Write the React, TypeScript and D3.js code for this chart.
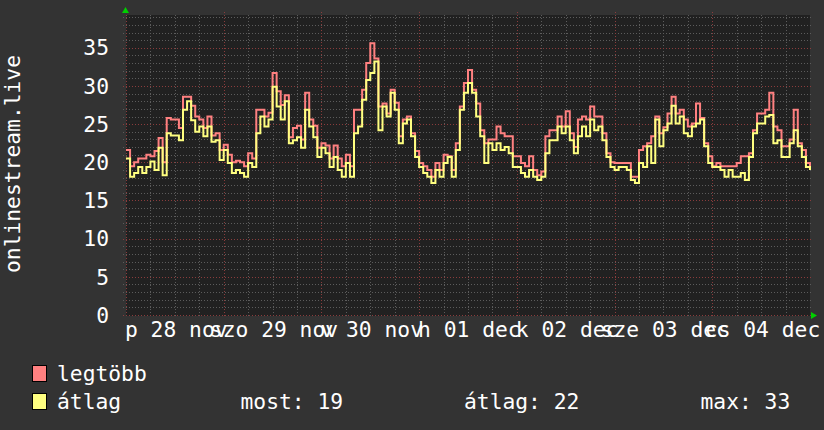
import * as d3 from 'd3';

// hourly values from p 28 nov 00:00 to cs 04 dec 24:00 (last entry closes the final step)
const avgValues = [
  20.5, 18.1, 18.6, 19.4, 18.6, 19.4, 20.1, 19.0, 21.9, 18.3, 23.8, 23.5, 23.5, 22.9, 26.9, 28.0, 25.5, 24.0, 24.7, 23.4, 24.7, 22.7, 22.9, 20.3,
  21.6, 19.9, 18.6, 19.0, 18.6, 18.1, 19.9, 19.4, 23.8, 26.0, 24.7, 25.6, 29.9, 27.3, 25.6, 28.0, 22.5, 22.9, 23.3, 21.9, 26.9, 24.7, 23.3, 20.7,
  21.9, 21.2, 19.4, 20.7, 19.0, 18.1, 19.9, 18.1, 23.8, 24.7, 28.2, 30.8, 31.7, 33.2, 24.2, 27.3, 26.0, 29.1, 26.9, 22.5, 25.1, 25.6, 23.4, 20.7,
  19.4, 18.6, 18.1, 17.3, 19.0, 18.1, 19.9, 20.7, 18.1, 21.6, 26.9, 29.1, 30.4, 29.1, 26.0, 23.4, 19.9, 22.5, 21.6, 22.5, 21.6, 22.0, 21.2, 19.4,
  19.4, 18.6, 18.1, 19.0, 18.1, 17.7, 18.1, 21.2, 22.9, 22.9, 24.7, 23.8, 24.7, 22.9, 21.2, 23.4, 24.7, 23.4, 25.6, 24.2, 24.7, 22.9, 20.7, 19.4,
  19.0, 19.4, 19.4, 19.0, 17.7, 17.3, 19.9, 19.4, 22.1, 19.9, 25.6, 22.1, 24.2, 25.1, 27.4, 25.1, 26.0, 23.8, 23.4, 24.7, 25.1, 25.6, 22.1, 19.9,
  19.4, 19.4, 19.0, 18.1, 19.0, 18.1, 18.1, 18.6, 17.7, 20.7, 23.8, 25.1, 25.1, 26.0, 26.2, 22.5, 22.9, 20.7, 20.7, 22.5, 24.2, 22.1, 20.7, 19.4,
  19.0,
];

const maxValues = [
  21.6, 19.5, 20.0, 20.5, 20.5, 21.0, 20.8, 21.5, 23.2, 20.0, 25.8, 25.6, 25.6, 24.5, 28.6, 28.6, 27.4, 26.0, 25.6, 24.5, 26.0, 23.5, 23.8, 21.6,
  22.3, 21.0, 20.0, 20.2, 20.0, 19.5, 21.2, 20.5, 26.9, 26.9, 26.0, 26.5, 31.7, 29.3, 27.5, 28.8, 23.3, 24.5, 24.8, 23.0, 29.1, 25.6, 24.8, 21.9,
  22.5, 22.2, 20.5, 22.2, 20.5, 19.5, 21.0, 19.5, 26.9, 26.9, 29.5, 33.0, 35.6, 33.6, 27.3, 27.7, 26.4, 29.5, 27.8, 23.4, 25.6, 26.0, 23.8, 21.5,
  19.9, 19.5, 19.0, 18.1, 19.9, 19.0, 21.0, 20.8, 19.0, 22.5, 27.3, 30.4, 32.1, 29.5, 27.7, 24.2, 22.5, 23.0, 23.0, 24.7, 23.8, 23.4, 23.4, 20.8,
  20.8, 19.9, 19.5, 20.8, 19.0, 18.3, 18.8, 23.4, 24.2, 24.2, 26.0, 24.7, 26.7, 23.8, 22.0, 25.6, 26.0, 25.6, 27.3, 26.0, 26.0, 23.8, 21.2, 20.0,
  19.9, 19.9, 19.9, 19.9, 18.1, 18.1, 21.6, 22.1, 22.5, 23.4, 26.0, 23.8, 24.6, 26.4, 28.6, 26.4, 26.9, 25.6, 24.7, 25.1, 27.7, 25.8, 22.5, 20.8,
  19.5, 19.9, 19.5, 19.5, 19.5, 19.5, 19.9, 20.8, 20.8, 21.2, 24.2, 26.4, 26.4, 26.9, 29.1, 24.7, 24.2, 22.1, 22.1, 23.0, 26.9, 22.5, 21.6, 19.9,
  19.0,
];

const dayLabels = ['p 28 nov', 'szo 29 nov', 'v 30 nov', 'h 01 dec', 'k 02 dec', 'sze 03 dec', 'cs 04 dec'];
const yTicks = [0, 5, 10, 15, 20, 25, 30, 35];
const yTitle = 'onlinestream.live';
const legendItems = [
  { label: 'legtöbb', color: '#ff8080' },
  { label: 'átlag', color: '#ffff80' },
];
const stats = ['most: 19', 'átlag: 22', 'max: 33'];

const W = 824;
const H = 430;
const plot = { left: 126, right: 810, top: 15, bottom: 315 };
const font = 'DejaVu Sans Mono, monospace';
const fontSize = 21.3;
const minorColor = '#5c5c5c';
const majorColor = '#8a3c3c';

export default function App() {
  const x = d3.scaleLinear().domain([0, 168]).range([plot.left, plot.right]);
  const y = d3.scaleLinear().domain([0, 39.3]).range([plot.bottom, plot.top]);

  const line = d3
    .line<number>()
    .x((_, i) => x(i))
    .y((d) => y(d))
    .curve(d3.curveStepAfter);

  const minorH = d3.range(1, 40).filter((v) => v % 5 !== 0 && y(v) >= plot.top);
  const minorV = d3.range(6, 168, 6).filter((h) => h % 24 !== 0);
  const majorV = d3.range(0, 168, 24);

  return (
    <svg width={W} height={H} style={{ position: 'absolute', left: 0, top: 0 }}>
      <rect width={W} height={H} fill="#333333" />
      <rect
        x={plot.left}
        y={plot.top}
        width={plot.right - plot.left}
        height={plot.bottom - plot.top + 1}
        fill="#212121"
      />

      {/* grid */}
      <g strokeDasharray="1,2" strokeWidth={1}>
        {minorH.map((v) => (
          <line key={'mh' + v} x1={plot.left - 3} x2={plot.right + 2} y1={Math.round(y(v)) + 0.5} y2={Math.round(y(v)) + 0.5} stroke={minorColor} />
        ))}
        {minorV.map((h) => (
          <line key={'mv' + h} x1={Math.round(x(h)) + 0.5} x2={Math.round(x(h)) + 0.5} y1={plot.top} y2={plot.bottom + 2} stroke={minorColor} />
        ))}
        {yTicks.map((v) => (
          <line key={'Mh' + v} x1={plot.left - 3} x2={plot.right + 2} y1={Math.round(y(v)) + 0.5} y2={Math.round(y(v)) + 0.5} stroke={majorColor} />
        ))}
        {majorV.map((h) => (
          <line key={'Mv' + h} x1={Math.round(x(h)) + 0.5} x2={Math.round(x(h)) + 0.5} y1={plot.top - 3} y2={plot.bottom + 3} stroke={majorColor} />
        ))}
      </g>

      {/* series */}
      <path d={line(maxValues) ?? ''} fill="none" stroke="#ff8080" strokeWidth={2} />
      <path d={line(avgValues) ?? ''} fill="none" stroke="#ffff80" strokeWidth={2} />

      {/* arrows */}
      <polygon points={`${plot.left - 4},13 ${plot.left + 3},13 ${plot.left - 0.5},7`} fill="#00d000" />
      <polygon points={`${plot.right + 1},312 ${plot.right + 1},319 ${plot.right + 7},315.5`} fill="#00d000" />

      {/* y tick labels */}
      {yTicks.map((v) => (
        <text key={'yl' + v} x={109} y={y(v)} dy="0.36em" textAnchor="end" fill="#ffffff" fontFamily={font} fontSize={fontSize}>
          {v}
        </text>
      ))}

      {/* x labels, centred on noon of each day */}
      {dayLabels.map((d, i) => (
        <text key={d} x={x(i * 24 + 12) + 1.4} y={337} textAnchor="middle" fill="#ffffff" fontFamily={font} fontSize={fontSize}>
          {d}
        </text>
      ))}

      {/* y title */}
      <text
        transform={`translate(20,${(55 + 273) / 2}) rotate(-90)`}
        textAnchor="middle"
        fill="#ffffff"
        fontFamily={font}
        fontSize={fontSize}
      >
        {yTitle}
      </text>

      {/* legend */}
      {legendItems.map((it, i) => (
        <g key={it.label}>
          <rect x={32.5} y={365.5 + i * 28} width={14} height={16} fill={it.color} stroke="#000000" strokeWidth={1} />
          <text x={57} y={381 + i * 28} fill="#ffffff" fontFamily={font} fontSize={fontSize}>
            {it.label}
          </text>
        </g>
      ))}
      {stats.map((s, i) => (
        <text key={s} x={[240.5, 464, 700.5][i]} y={409} fill="#ffffff" fontFamily={font} fontSize={fontSize}>
          {s}
        </text>
      ))}
    </svg>
  );
}
